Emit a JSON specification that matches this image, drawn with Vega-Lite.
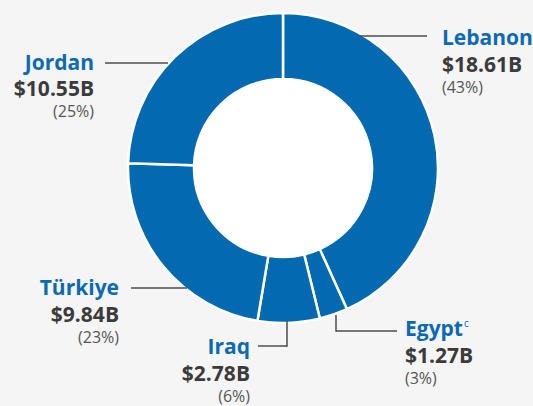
{
  "$schema": "https://vega.github.io/schema/vega-lite/v6.json",
  "width": 533,
  "height": 406,
  "autosize": "none",
  "padding": 0,
  "background": "#f5f5f5",
  "config": {
    "view": {"stroke": null},
    "style": {
      "nm": {"font": "Open Sans", "fontSize": 21, "fontWeight": 700, "baseline": "alphabetic"},
      "vl": {"font": "Open Sans", "fontSize": 21, "fontWeight": 700, "baseline": "alphabetic"},
      "pc": {"font": "Open Sans", "fontSize": 16, "fontWeight": 400, "baseline": "alphabetic"},
      "ld": {"strokeWidth": 1.5}
    }
  },
  "data": {
    "values": [
      {"country": "Lebanon", "value": 18.61, "pct": 43},
      {"country": "Egypt", "value": 1.27, "pct": 3},
      {"country": "Iraq", "value": 2.78, "pct": 6},
      {"country": "Türkiye", "value": 9.84, "pct": 23},
      {"country": "Jordan", "value": 10.55, "pct": 25}
    ]
  },
  "transform": [
    {"calculate": "'$' + format(datum.value, '.2f') + 'B'", "as": "vlabel"},
    {"calculate": "'(' + datum.pct + '%)'", "as": "plabel"}
  ],
  "layer": [
    {
      "mark": {"type": "arc", "outerRadius": 90, "fill": "white", "stroke": "white"},
      "encoding": {
        "theta": {"field": "value", "type": "quantitative", "stack": true},
        "x": {"datum": 283, "type": "quantitative", "scale": {"domain": [0, 533], "nice": false, "zero": false}, "axis": null},
        "y": {"datum": 168, "type": "quantitative", "scale": {"domain": [0, 406], "nice": false, "zero": false, "reverse": true}, "axis": null}
      }
    },
    {
      "mark": {"type": "arc", "outerRadius": 155, "innerRadius": 89, "fill": "#0369b1", "stroke": "white", "strokeWidth": 2.5},
      "encoding": {
        "theta": {"field": "value", "type": "quantitative", "stack": true},
        "x": {"datum": 283, "type": "quantitative"},
        "y": {"datum": 168, "type": "quantitative"}
      }
    },
    {
      "transform": [{"filter": "datum.country === 'Lebanon'"}],
      "layer": [
        {"mark": {"type": "rule", "style": "ld", "color": "#4d4d4d"}, "encoding": {"x": {"datum": 360, "type": "quantitative"}, "x2": {"datum": 427}, "y": {"datum": 36, "type": "quantitative"}, "y2": {"datum": 36}}},
        {
          "encoding": {"x": {"datum": 442, "type": "quantitative"}, "y": {"datum": 45, "type": "quantitative"}},
          "layer": [
            {"mark": {"type": "text", "style": "nm", "color": "#0b6ab3", "align": "left"}, "encoding": {"text": {"field": "country"}}},
            {"mark": {"type": "text", "style": "vl", "color": "#3b3b3b", "align": "left", "dy": 27}, "encoding": {"text": {"field": "vlabel"}}},
            {"mark": {"type": "text", "style": "pc", "color": "#555555", "align": "left", "dy": 48}, "encoding": {"text": {"field": "plabel"}}}
          ]
        }
      ]
    },
    {
      "transform": [{"filter": "datum.country === 'Jordan'"}],
      "layer": [
        {"mark": {"type": "rule", "style": "ld", "color": "#4d4d4d"}, "encoding": {"x": {"datum": 105, "type": "quantitative"}, "x2": {"datum": 168}, "y": {"datum": 63, "type": "quantitative"}, "y2": {"datum": 63}}},
        {
          "encoding": {"x": {"datum": 94, "type": "quantitative"}, "y": {"datum": 70, "type": "quantitative"}},
          "layer": [
            {"mark": {"type": "text", "style": "nm", "color": "#0b6ab3", "align": "right"}, "encoding": {"text": {"field": "country"}}},
            {"mark": {"type": "text", "style": "vl", "color": "#3b3b3b", "align": "right", "dy": 26}, "encoding": {"text": {"field": "vlabel"}}},
            {"mark": {"type": "text", "style": "pc", "color": "#555555", "align": "right", "dy": 47}, "encoding": {"text": {"field": "plabel"}}}
          ]
        }
      ]
    },
    {
      "transform": [{"filter": "datum.country === 'Türkiye'"}],
      "layer": [
        {"mark": {"type": "rule", "style": "ld", "color": "#4d4d4d"}, "encoding": {"x": {"datum": 131, "type": "quantitative"}, "x2": {"datum": 187}, "y": {"datum": 288, "type": "quantitative"}, "y2": {"datum": 288}}},
        {
          "encoding": {"x": {"datum": 119, "type": "quantitative"}, "y": {"datum": 295, "type": "quantitative"}},
          "layer": [
            {"mark": {"type": "text", "style": "nm", "color": "#0b6ab3", "align": "right"}, "encoding": {"text": {"field": "country"}}},
            {"mark": {"type": "text", "style": "vl", "color": "#3b3b3b", "align": "right", "dy": 27}, "encoding": {"text": {"field": "vlabel"}}},
            {"mark": {"type": "text", "style": "pc", "color": "#555555", "align": "right", "dy": 48}, "encoding": {"text": {"field": "plabel"}}}
          ]
        }
      ]
    },
    {
      "transform": [{"filter": "datum.country === 'Iraq'"}],
      "layer": [
        {"mark": {"type": "rule", "style": "ld", "color": "#4d4d4d"}, "encoding": {"x": {"datum": 258, "type": "quantitative"}, "x2": {"datum": 287}, "y": {"datum": 346, "type": "quantitative"}, "y2": {"datum": 346}}},
        {"mark": {"type": "rule", "style": "ld", "color": "#4d4d4d"}, "encoding": {"x": {"datum": 287, "type": "quantitative"}, "x2": {"datum": 287}, "y": {"datum": 321, "type": "quantitative"}, "y2": {"datum": 346.7}}},
        {
          "encoding": {"x": {"datum": 250, "type": "quantitative"}, "y": {"datum": 354, "type": "quantitative"}},
          "layer": [
            {"mark": {"type": "text", "style": "nm", "color": "#0b6ab3", "align": "right"}, "encoding": {"text": {"field": "country"}}},
            {"mark": {"type": "text", "style": "vl", "color": "#3b3b3b", "align": "right", "dy": 27}, "encoding": {"text": {"field": "vlabel"}}},
            {"mark": {"type": "text", "style": "pc", "color": "#555555", "align": "right", "dy": 48}, "encoding": {"text": {"field": "plabel"}}}
          ]
        }
      ]
    },
    {
      "transform": [{"filter": "datum.country === 'Egypt'"}],
      "layer": [
        {"mark": {"type": "rule", "style": "ld", "color": "#4d4d4d"}, "encoding": {"x": {"datum": 336, "type": "quantitative"}, "x2": {"datum": 336}, "y": {"datum": 315, "type": "quantitative"}, "y2": {"datum": 331.7}}},
        {"mark": {"type": "rule", "style": "ld", "color": "#4d4d4d"}, "encoding": {"x": {"datum": 336, "type": "quantitative"}, "x2": {"datum": 397}, "y": {"datum": 331, "type": "quantitative"}, "y2": {"datum": 331}}},
        {
          "encoding": {"x": {"datum": 405, "type": "quantitative"}, "y": {"datum": 336, "type": "quantitative"}},
          "layer": [
            {"mark": {"type": "text", "style": "nm", "color": "#0b6ab3", "align": "left"}, "encoding": {"text": {"field": "country"}}},
            {"mark": {"type": "text", "style": "nm", "color": "#0b6ab3", "align": "left", "text": "c", "fontSize": 10, "fontWeight": 400, "dx": 59, "dy": -9}},
            {"mark": {"type": "text", "style": "vl", "color": "#3b3b3b", "align": "left", "dy": 27}, "encoding": {"text": {"field": "vlabel"}}},
            {"mark": {"type": "text", "style": "pc", "color": "#555555", "align": "left", "dy": 48}, "encoding": {"text": {"field": "plabel"}}}
          ]
        }
      ]
    }
  ]
}
